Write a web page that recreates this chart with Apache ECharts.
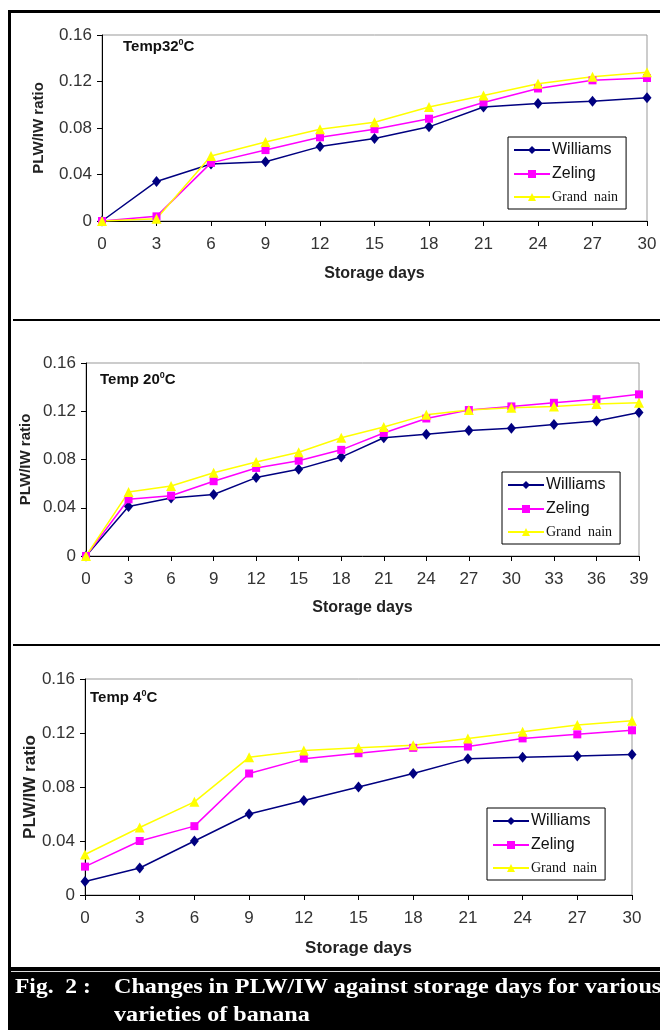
<!DOCTYPE html>
<html>
<head>
<meta charset="utf-8">
<script src="https://cdn.jsdelivr.net/npm/echarts@6/dist/echarts.min.js"></script>
<style>
  html, body { margin: 0; padding: 0; background: #fff; }
  #mapChart { width: 660px; height: 1030px; }
</style>
</head>
<body>
<div id="mapChart"></div>
<script>
// storage days for each panel
var days32 = [0, 3, 6, 9, 12, 15, 18, 21, 24, 27, 30];
var days20 = [0, 3, 6, 9, 12, 15, 18, 21, 24, 27, 30, 33, 36, 39];
var days4 = [0, 3, 6, 9, 12, 15, 18, 21, 24, 27, 30];

// PLW/IW ratio, Temp 32 C
var williams32 = [0, 0.034, 0.049, 0.051, 0.064, 0.071, 0.081, 0.098, 0.101, 0.103, 0.106];
var zeling32 = [0, 0.004, 0.050, 0.061, 0.072, 0.079, 0.088, 0.102, 0.114, 0.121, 0.123];
var grand32 = [0, 0.002, 0.056, 0.068, 0.079, 0.085, 0.098, 0.108, 0.118, 0.124, 0.128];

// Temp 20 C
var williams20 = [0, 0.041, 0.048, 0.051, 0.065, 0.072, 0.082, 0.098, 0.101, 0.104, 0.106, 0.109, 0.112, 0.119];
var zeling20 = [0, 0.047, 0.050, 0.062, 0.073, 0.079, 0.088, 0.102, 0.114, 0.121, 0.124, 0.127, 0.130, 0.134];
var grand20 = [0, 0.053, 0.058, 0.069, 0.078, 0.086, 0.098, 0.107, 0.117, 0.121, 0.123, 0.124, 0.126, 0.127];

// Temp 4 C
var williams4 = [0.010, 0.020, 0.040, 0.060, 0.070, 0.080, 0.090, 0.101, 0.102, 0.103, 0.104];
var zeling4 = [0.021, 0.040, 0.051, 0.090, 0.101, 0.105, 0.109, 0.110, 0.116, 0.119, 0.122];
var grand4 = [0.030, 0.050, 0.069, 0.102, 0.107, 0.109, 0.111, 0.116, 0.121, 0.126, 0.129];

var names = ["Williams", "Zeling", "Grand nain"];

var myChart = echarts.init(document.getElementById("mapChart"));

var sans = '"Liberation Sans", Arial, sans-serif';
var serif = '"Liberation Serif", "Times New Roman", serif';

function pairs(xs, ys) {
    return xs.map(function(x, i) { return [x, ys[i]]; });
}

var looks = [
    { color: "#000080", symbol: "diamond", symbolSize: [9, 11] },
    { color: "#ff00ff", symbol: "rect", symbolSize: 8 },
    { color: "#ffff00", symbol: "triangle", symbolSize: 10 }
];

function mkSeries(idx, days, sets) {
    return sets.map(function(vals, k) {
        return {
            name: names[k],
            type: "line",
            xAxisIndex: idx,
            yAxisIndex: idx,
            data: pairs(days, vals),
            symbol: looks[k].symbol,
            symbolSize: looks[k].symbolSize,
            showAllSymbol: true,
            animation: false,
            lineStyle: { color: looks[k].color, width: 1.5 },
            itemStyle: { color: looks[k].color }
        };
    });
}

function mkX(idx, max, nameGap, nameSize) {
    return {
        type: "value", gridIndex: idx, min: 0, max: max, interval: 3,
        name: "Storage days", nameLocation: "middle", nameGap: nameGap,
        nameTextStyle: { fontFamily: sans, fontWeight: "bold", fontSize: nameSize, color: "#222" },
        axisLine: { lineStyle: { color: "#000", width: 1 } },
        axisTick: { length: 5, lineStyle: { color: "#000" } },
        axisLabel: { fontFamily: sans, fontSize: 17, color: "#333", margin: 15 },
        splitLine: { show: false }
    };
}

function mkY(idx, nameGap, nameSize) {
    return {
        type: "value", gridIndex: idx, min: 0, max: 0.16, interval: 0.04,
        name: "PLW/IW ratio", nameLocation: "middle", nameGap: nameGap, nameRotate: 90,
        nameMoveOverlap: false,
        nameTextStyle: { fontFamily: sans, fontWeight: "bold", fontSize: nameSize, color: "#222" },
        axisLine: { show: true, lineStyle: { color: "#000", width: 1 } },
        axisTick: { show: true, length: 5, lineStyle: { color: "#000" } },
        axisLabel: {
            fontFamily: sans, fontSize: 17, color: "#333", margin: 10,
            formatter: function(v) { return v === 0 ? "0" : v.toFixed(2); }
        },
        splitLine: { show: false }
    };
}

function mkLegend(left, top) {
    return {
        data: names, orient: "vertical", left: left, top: top,
        backgroundColor: "#fff", borderColor: "#000", borderWidth: 1,
        padding: [5, 8, 5, 5], itemGap: 8, itemWidth: 36, itemHeight: 10,
        selectedMode: false,
        formatter: function(n) { return n === "Grand nain" ? "{s|Grand  nain}" : n; },
        textStyle: {
            fontFamily: sans, fontSize: 16, color: "#111", padding: [0, 0, 0, -3],
            rich: { s: { fontFamily: serif, fontSize: 14, color: "#111" } }
        }
    };
}

function mkTemp(a, left, top) {
    return {
        text: "{a|" + a + "}{b|0}{a|C}", left: left, top: top, padding: 0,
        textStyle: {
            rich: {
                a: { fontFamily: sans, fontWeight: "bold", fontSize: 15, color: "#111", lineHeight: 18 },
                b: { fontFamily: sans, fontWeight: "bold", fontSize: 9, color: "#111", verticalAlign: "top" }
            }
        }
    };
}

var gridBox = { show: true, borderColor: "#999", borderWidth: 1, backgroundColor: "#fff" };

option = {
    backgroundColor: "#fff",
    title: [
        mkTemp("Temp32", 123, 38),
        mkTemp("Temp 20", 100, 371),
        mkTemp("Temp 4", 90, 689)
    ],
    grid: [
        Object.assign({ left: 102, top: 35, width: 545, height: 186 }, gridBox),
        Object.assign({ left: 86, top: 363, width: 553, height: 193 }, gridBox),
        Object.assign({ left: 85, top: 679, width: 547, height: 216 }, gridBox)
    ],
    xAxis: [mkX(0, 30, 45, 16), mkX(1, 39, 44, 16), mkX(2, 30, 45, 17)],
    yAxis: [mkY(0, 56, 15), mkY(1, 53, 15), mkY(2, 46, 17)],
    legend: [mkLegend(508, 137), mkLegend(502, 472), mkLegend(487, 808)],
    series: [].concat(
        mkSeries(0, days32, [williams32, zeling32, grand32]),
        mkSeries(1, days20, [williams20, zeling20, grand20]),
        mkSeries(2, days4, [williams4, zeling4, grand4])
    ),
    graphic: [
        { type: "rect", shape: { x: 8, y: 10, width: 3, height: 958 }, style: { fill: "#000" } },
        { type: "rect", shape: { x: 8, y: 10, width: 652, height: 3 }, style: { fill: "#000" } },
        { type: "rect", shape: { x: 13, y: 319, width: 647, height: 2 }, style: { fill: "#000" } },
        { type: "rect", shape: { x: 13, y: 644, width: 647, height: 2 }, style: { fill: "#000" } },
        { type: "rect", shape: { x: 8, y: 967, width: 652, height: 63 }, style: { fill: "#000" } },
        { type: "rect", shape: { x: 11, y: 971, width: 649, height: 1 }, style: { fill: "#ddd" } },
        {
            type: "text", x: 15, y: 988, scaleX: 1.12,
            style: { text: "Fig.  2 :", fill: "#fff", font: "bold 21px " + serif, textVerticalAlign: "middle" }
        },
        {
            type: "text", x: 114, y: 988, scaleX: 1.15,
            style: { text: "Changes in PLW/IW against storage days for various", fill: "#fff", font: "bold 21px " + serif, textVerticalAlign: "middle" }
        },
        {
            type: "text", x: 114, y: 1016, scaleX: 1.15,
            style: { text: "varieties of banana", fill: "#fff", font: "bold 21px " + serif, textVerticalAlign: "middle" }
        }
    ]
};

myChart.setOption(option);
</script>
</body>
</html>
